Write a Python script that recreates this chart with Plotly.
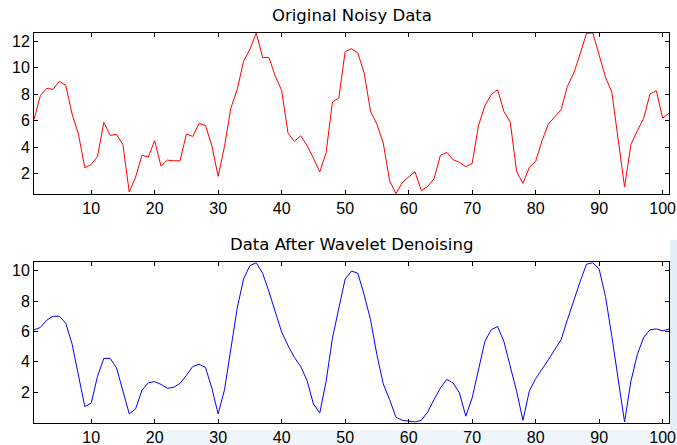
import plotly.graph_objects as go

x_index = list(range(1, 102))

noisy = [6.1, 7.9, 8.45, 8.37, 8.98, 8.68, 6.5, 5.0, 2.45, 2.7,
         3.3, 5.88, 4.9, 4.97, 4.2, 0.62, 1.75, 3.39, 3.26, 4.5,
         2.58, 3.03, 2.98, 2.98, 5.0, 4.82, 5.8, 5.65, 4.14, 1.8,
         4.07, 6.96, 8.35, 10.49, 11.4, 12.63, 10.79, 10.77, 9.36, 8.3,
         5.07, 4.44, 4.87, 4.14, 3.18, 2.13, 3.59, 7.42, 7.72, 11.22,
         11.45, 11.12, 9.6, 6.71, 5.75, 4.32, 1.47, 0.49, 1.35, 1.75,
         2.15, 0.72, 1.04, 1.62, 3.39, 3.61, 3.06, 2.86, 2.53, 2.78,
         5.65, 7.14, 7.97, 8.35, 6.71, 5.9, 2.18, 1.27, 2.48, 2.93,
         4.49, 5.75, 6.33, 6.84, 8.6, 9.61, 11.04, 12.6, 12.63, 11.04,
         9.3, 8.15, 4.7, 1.0, 4.2, 5.25, 6.16, 8.02, 8.27, 6.2,
         6.58]

denoised = [6.11, 6.26, 6.74, 7.0, 7.0, 6.55, 5.17, 3.16, 1.06, 1.28,
            3.05, 4.23, 4.23, 3.6, 2.07, 0.58, 0.91, 2.13, 2.63, 2.7,
            2.52, 2.26, 2.33, 2.59, 3.11, 3.7, 3.84, 3.64, 2.28, 0.58,
            2.17, 4.91, 7.53, 9.45, 10.33, 10.52, 9.83, 8.62, 7.31, 5.96,
            5.08, 4.3, 3.7, 2.77, 1.24, 0.64, 2.72, 5.56, 7.53, 9.45,
            9.98, 9.83, 8.4, 6.77, 4.47, 2.55, 1.52, 0.36, 0.16, 0.1,
            0.05, 0.16, 0.71, 1.52, 2.28, 2.85, 2.61, 1.96, 0.43, 1.63,
            3.6, 5.34, 6.11, 6.33, 5.34, 3.7, 2.07, 0.16, 2.07, 2.9,
            3.49, 4.14, 4.8, 5.45, 6.77, 8.08, 9.28, 10.42, 10.52, 10.1,
            8.3, 5.67, 2.94, 0.05, 2.72, 4.47, 5.61, 6.11, 6.17, 6.04,
            6.15]

x_ticks = [10, 20, 30, 40, 50, 60, 70, 80, 90, 100]
y_ticks_top = [2, 4, 6, 8, 10, 12]
y_ticks_bottom = [2, 4, 6, 8, 10]
titles = ["Original Noisy Data", "Data After Wavelet Denoising"]

W, H = 677, 445
L, R = 34, 8
PW = W - L - R


def px_x(p):
    return (p - L) / PW


def px_y(p):
    return 1 - p / H


fig = go.Figure()

fig.add_trace(go.Scatter(x=x_index, y=noisy, mode="lines",
                         line=dict(color="#ff0000", width=1),
                         xaxis="x", yaxis="y", showlegend=False))
fig.add_trace(go.Scatter(x=x_index, y=denoised, mode="lines",
                         line=dict(color="#0000ff", width=1),
                         xaxis="x2", yaxis="y2", showlegend=False))

tick_font = dict(family="Liberation Sans, Arial, sans-serif", size=16, color="black")
title_font = dict(family="DejaVu Sans, sans-serif", size=16.5, color="black")

axis_common = dict(showline=True, linecolor="black", linewidth=1, mirror="allticks",
                   ticks="inside", ticklen=4, tickcolor="black", tickwidth=1,
                   showgrid=False, zeroline=False, tickfont=tick_font)

fig.update_layout(
    width=W, height=H,
    margin=dict(l=L, r=R, t=0, b=0),
    paper_bgcolor="white", plot_bgcolor="white",
    xaxis=dict(domain=[0, 1], range=[1, 101], tickvals=x_ticks, anchor="y", **axis_common),
    yaxis=dict(domain=[px_y(194), px_y(33)], range=[0.47, 12.63], tickvals=y_ticks_top,
               anchor="x", **axis_common),
    xaxis2=dict(domain=[0, 1], range=[1, 101], tickvals=x_ticks, anchor="y2", **axis_common),
    yaxis2=dict(domain=[px_y(422.7), px_y(262.3)], range=[0, 10.55], tickvals=y_ticks_bottom,
                anchor="x2", **axis_common),
)

# faint light-blue background watermark at the lower right
fig.add_shape(type="rect", xref="paper", yref="paper", layer="below",
              x0=px_x(670), x1=px_x(677), y0=px_y(445), y1=px_y(240),
              fillcolor="#e2eff7", line=dict(width=0))
fig.add_shape(type="rect", xref="paper", yref="paper", layer="below",
              x0=px_x(150), x1=px_x(677), y0=px_y(445), y1=px_y(430),
              fillcolor="#eef6fb", line=dict(width=0))

fig.add_annotation(text=titles[0], xref="paper", yref="paper", x=0.5, y=px_y(16),
                   yanchor="middle", xanchor="center", showarrow=False, font=title_font)
fig.add_annotation(text=titles[1], xref="paper", yref="paper", x=0.5, y=px_y(244),
                   yanchor="middle", xanchor="center", showarrow=False, font=title_font)

fig.write_html("out.html")
